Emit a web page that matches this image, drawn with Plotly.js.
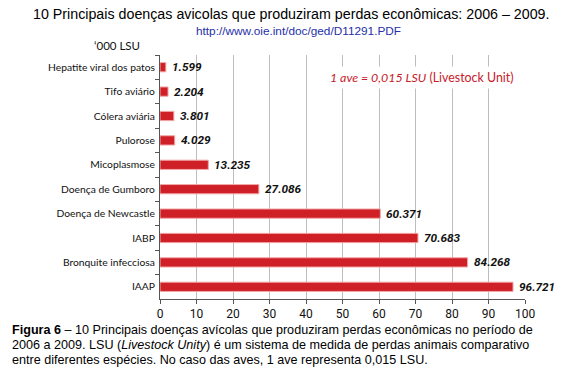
<!DOCTYPE html>
<html>
<head>
<meta charset="utf-8">
<script src="https://cdn.plot.ly/plotly-3.0.1.min.js"></script>
<style>html,body{margin:0;padding:0;background:#fff;}#chart{width:576px;height:377px;}</style>
</head>
<body>
<div id="chart"></div>
<script>
const categories = ["Hepatite viral dos patos","Tifo aviário","Cólera aviária","Pulorose","Micoplasmose","Doença de Gumboro","Doença de Newcastle","IABP","Bronquite infecciosa","IAAP"];
const values = [1.599, 2.204, 3.801, 4.029, 13.235, 27.086, 60.371, 70.683, 84.268, 96.721];
const xTicks = [0,10,20,30,40,50,60,70,80,90,100];
const titleText = "10 Principais doenças avicolas que produziram perdas econômicas: 2006 – 2009.";
const urlText = "http://www.oie.int/doc/ged/D11291.PDF";
const unitText = "‘000 LSU";
const noteText = "<i>1 ave = 0,015 LSU</i> (Livestock Unit)";
const captionLines = [
  "<b>Figura 6</b> – 10 Principais doenças avícolas que produziram perdas econômicas no período de",
  "2006 a 2009. LSU (<i>Livestock Unity</i>) é um sistema de medida de perdas animais comparativo",
  "entre diferentes espécies. No caso das aves, 1 ave representa 0,015 LSU."
];

const W = 576, H = 377;
const M = {l:160, r:51, t:54.5, b:78};
const plotW = W - M.l - M.r, plotH = H - M.t - M.b;
const px2x = p => (p - M.l) / plotW;
const py2y = p => (H - M.b - p) / plotH;

const narrow = "'Liberation Sans Narrow', 'Arial Narrow', Roboto, sans-serif";
const calib = "Lato, 'Open Sans', sans-serif";
const arial = "'Liberation Sans', Arial, sans-serif";

const annotations = [];
values.forEach((v, i) => {
  annotations.push({
    x: v, y: categories[i], xref: 'x', yref: 'y',
    text: v.toFixed(3), showarrow: false, xanchor: 'left', yanchor: 'middle', xshift: 4,
    font: {family: narrow, size: 11.8, color: '#111', weight: 'bold', style: 'italic'}
  });
});
annotations.push({xref:'paper', yref:'paper', x: px2x(290.5), y: py2y(13), text: titleText, showarrow:false,
  xanchor:'center', yanchor:'middle', font:{family: arial, size:14.25, color:'#000'}});
annotations.push({xref:'paper', yref:'paper', x: px2x(298), y: py2y(30), text: urlText, showarrow:false,
  xanchor:'center', yanchor:'middle', font:{family: arial, size:11.8, color:'#2530a8'}});
annotations.push({xref:'paper', yref:'paper', x: px2x(92), y: py2y(45), text: unitText, showarrow:false,
  xanchor:'left', yanchor:'middle', font:{family: calib, size:11.5, color:'#111'}});
annotations.push({xref:'paper', yref:'paper', x: px2x(326), y: py2y(77), text: noteText, showarrow:false,
  xanchor:'left', yanchor:'middle', bgcolor:'#ffffff', borderpad:3,
  font:{family: calib, size:12.4, color:'#c8202a'}});
captionLines.forEach((t, i) => {
  annotations.push({xref:'paper', yref:'paper', x: px2x(10), y: py2y(330 + i*15), text: t, showarrow:false,
    xanchor:'left', yanchor:'middle', font:{family: arial, size:12.6, color:'#000'}});
});

const data = [{
  type: 'bar', orientation: 'h',
  x: values, y: categories,
  width: 0.38,
  marker: {color: '#cf2027', line: {color: '#f2a9a9', width: 1}},
  hoverinfo: 'none'
}];

const layout = {
  width: W, height: H,
  margin: M,
  paper_bgcolor: '#fff', plot_bgcolor: '#fff',
  showlegend: false,
  xaxis: {
    range: [0, 100], tickvals: xTicks, ticktext: xTicks.map(String),
    showgrid: true, gridcolor: '#bdbdbd', gridwidth: 1,
    showline: true, linecolor: '#555', linewidth: 1,
    ticks: 'outside', ticklen: 4, tickcolor: '#555',
    zeroline: false, fixedrange: true,
    tickfont: {family: narrow, size: 12, color: '#111'}
  },
  yaxis: {
    type: 'category', autorange: 'reversed',
    showline: true, linecolor: '#555', linewidth: 1,
    ticks: 'outside', ticklen: 4, tickcolor: '#555', tickson: 'boundaries',
    showgrid: false, zeroline: false, fixedrange: true,
    ticklabelstandoff: 2,
    tickfont: {family: calib, size: 10.3, color: '#111'}
  },
  annotations: annotations
};

Plotly.newPlot('chart', data, layout, {displayModeBar: false, staticPlot: true});
</script>
</body>
</html>
